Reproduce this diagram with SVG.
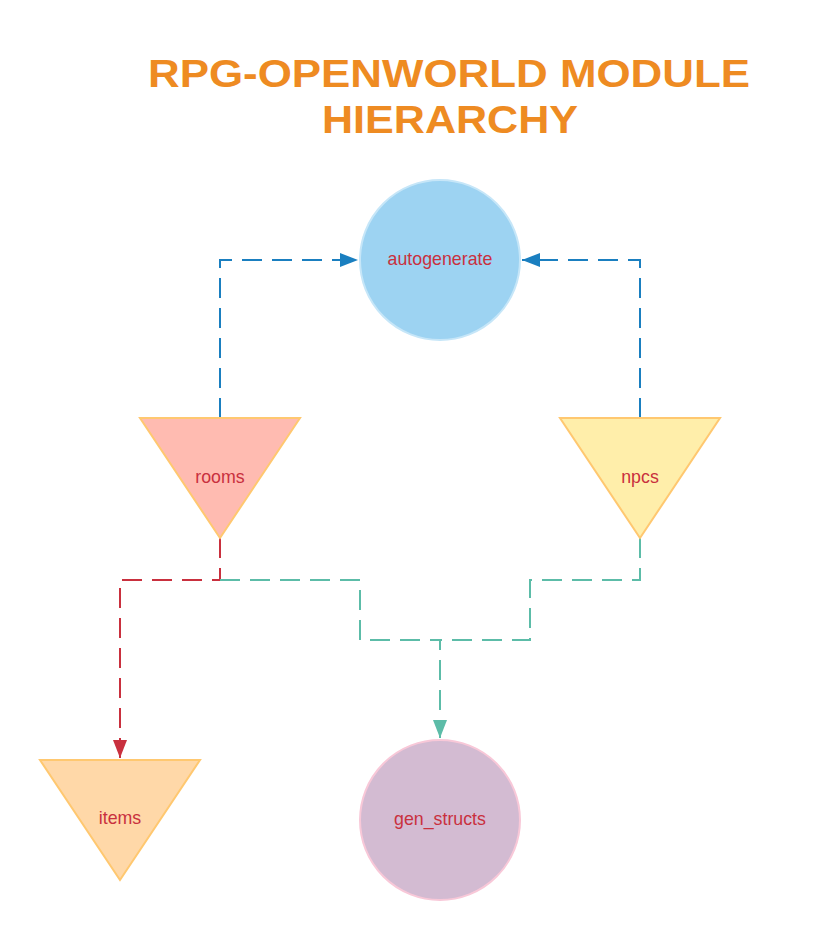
<svg xmlns="http://www.w3.org/2000/svg" width="820" height="940" viewBox="0 0 820 940">
<style>
.lbl{font-family:"Liberation Sans",Arial,sans-serif;font-size:17.8px;fill:#c9303e;text-anchor:middle;dominant-baseline:central}
.title{font-family:"Liberation Sans",Arial,sans-serif;font-weight:bold;font-size:39px;fill:#ee8b22;text-anchor:middle}
.c{fill:none;stroke-width:2;stroke-dasharray:20 10}
.blue{stroke:#1a7fc0}
.red{stroke:#c9303e}
.teal{stroke:#5cbca8}
</style>
<defs>
<marker id="ab" markerWidth="18" markerHeight="14" refX="18" refY="7" orient="auto" markerUnits="userSpaceOnUse"><path d="M0,0 L18,7 L0,14 Z" fill="#1a7fc0"/></marker>
<marker id="ar" markerWidth="18" markerHeight="14" refX="18" refY="7" orient="auto" markerUnits="userSpaceOnUse"><path d="M0,0 L18,7 L0,14 Z" fill="#c9303e"/></marker>
<marker id="at" markerWidth="18" markerHeight="14" refX="18" refY="7" orient="auto" markerUnits="userSpaceOnUse"><path d="M0,0 L18,7 L0,14 Z" fill="#5cbca8"/></marker>
</defs>
<rect width="820" height="940" fill="#ffffff"/>
<text class="title" x="449" y="87" textLength="602" lengthAdjust="spacingAndGlyphs">RPG-OPENWORLD MODULE</text>
<text class="title" x="450" y="133" textLength="256" lengthAdjust="spacingAndGlyphs">HIERARCHY</text>
<g id="connectors">
<path class="c blue" d="M220,418 V260 H358" marker-end="url(#ab)"/>
<path class="c blue" d="M640,418 V260 H522" marker-end="url(#ab)"/>
<path class="c red" d="M220,538 V580 H120 V758" marker-end="url(#ar)"/>
<path class="c teal" d="M220,580 H360 V640 H440 V738" marker-end="url(#at)"/>
<path class="c teal" d="M640,538 V580 H530 V640 H440"/>
</g>
<g id="autogenerate">
<circle cx="440" cy="260" r="80" fill="#9dd3f2" stroke="#c6e6f8" stroke-width="2"/>
<text class="lbl" x="440" y="259">autogenerate</text>
</g>
<g id="rooms">
<polygon points="140,418 300,418 220,538" fill="#ffbbb1" stroke="#ffc870" stroke-width="2"/>
<text class="lbl" x="220" y="477">rooms</text>
</g>
<g id="npcs">
<polygon points="560,418 720,418 640,538" fill="#ffeeaa" stroke="#ffc870" stroke-width="2"/>
<text class="lbl" x="640" y="477">npcs</text>
</g>
<g id="items">
<polygon points="40,760 200,760 120,880" fill="#ffd8a8" stroke="#ffc870" stroke-width="2"/>
<text class="lbl" x="120" y="818">items</text>
</g>
<g id="gen_structs">
<circle cx="440" cy="820" r="80" fill="#d3bbd2" stroke="#f8c8d8" stroke-width="2"/>
<text class="lbl" x="440" y="819">gen_structs</text>
</g>
</svg>
